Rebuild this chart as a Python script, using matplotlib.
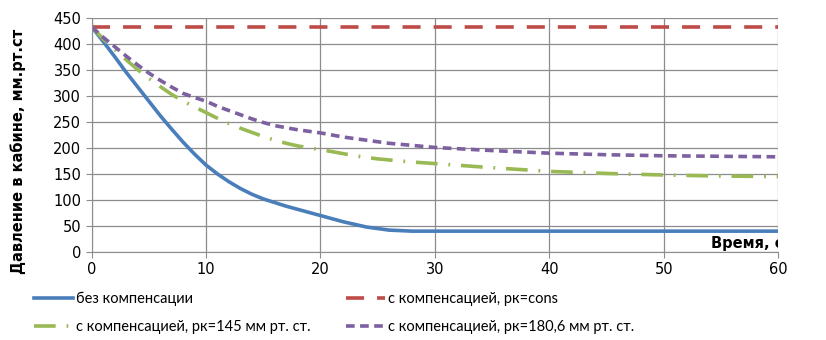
import numpy as np
import matplotlib.pyplot as plt

# -------------------- data --------------------
t = [0, 1, 2, 3, 4, 5, 6, 7, 8, 9, 10, 11, 12, 13, 14, 15, 16, 17, 18, 19, 20,
     21, 22, 23, 24, 25, 26, 27, 28, 30, 35, 40, 45, 50, 55, 60]
p_none = [433, 405, 376, 346, 318, 290, 262, 236, 211, 188, 167, 150, 135, 122, 111, 102, 95, 88, 82, 76, 70,
          64, 58, 53, 48, 45, 42, 41, 40, 40, 40, 40, 40, 40, 40, 40]
p_const = [433] * len(t)
p_145 = [433, 410, 390, 370, 351, 334, 318, 303, 290, 279, 268, 257, 247, 238, 230, 222, 215, 209, 204, 200, 197,
         193, 189, 185, 182, 179, 177, 175, 173, 170, 162, 155, 151, 148, 146, 145]
p_180 = [433, 413, 395, 377, 360, 344, 330, 317, 305, 297, 290, 280, 272, 264, 256, 249, 243, 239, 235, 232, 229,
         225, 221, 218, 215, 212, 209, 207, 205, 201, 195, 190, 187, 185, 184, 183]

labels = ["без компенсации",
          "с компенсацией, рк=cons",
          "с компенсацией, рк=145 мм рт. ст.",
          "с компенсацией, рк=180,6 мм рт. ст."]

# -------------------- plot --------------------
fig = plt.figure(figsize=(8.26, 3.40), dpi=100)
ax = fig.add_axes([0.111, 0.259, 0.831, 0.688])

l1, = ax.plot(t, p_none, color="#4A7EBB", lw=2.6)
l2, = ax.plot(t, p_const, color="#BE4B48", lw=2.6, dashes=(5, 3.6))
l3, = ax.plot(t, p_145, color="#98B954", lw=2.6, dashes=(6, 3, 0.5, 3))
l4, = ax.plot(t, p_180, color="#7D60A0", lw=2.6, dashes=(2.4, 1.5))

ax.set_xlim(0, 60)
ax.set_ylim(0, 450)
ax.set_xticks(np.arange(0, 61, 10))
ax.set_yticks(np.arange(0, 451, 50))
ax.grid(True, color="#8c8c8c", lw=0.9)
ax.set_axisbelow(True)
for s in ["top", "right"]:
    ax.spines[s].set_visible(False)
for s in ["left", "bottom"]:
    ax.spines[s].set_color("#8c8c8c")
ax.tick_params(colors="#8c8c8c", labelcolor="black", labelsize=10.5, length=4)

ax.set_ylabel("Давление в кабине, мм.рт.ст", fontsize=10.5, fontweight="bold")
ax.yaxis.set_label_coords(-0.095, 0.43)
ax.text(54.1, 17, "Время, с", fontsize=10.5, fontweight="bold", va="center", ha="left", clip_on=True)

# row-major order like the original legend
leg = fig.legend([l1, l3, l2, l4], [labels[0], labels[2], labels[1], labels[3]],
                 loc="lower left", bbox_to_anchor=(0.025, -0.02), ncol=2, frameon=False,
                 prop={"family": ["Lato", "DejaVu Sans"], "size": 10.5},
                 columnspacing=2.4, handlelength=2.7, handletextpad=0.2, labelspacing=0.95)

plt.savefig("out.png", dpi=100)
